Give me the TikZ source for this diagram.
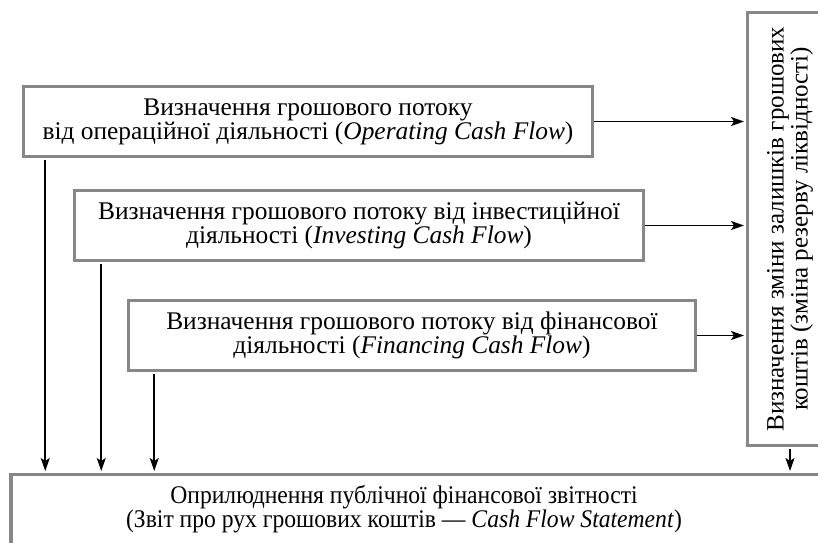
\documentclass[tikz,border=0pt]{standalone}
\usepackage{fontspec}
\setmainfont{Liberation Serif}
\usetikzlibrary{arrows.meta,positioning,calc}
\definecolor{boxgray}{RGB}{135,135,135}
\begin{document}
\begin{tikzpicture}[x=1pt,y=-1pt,
  box/.style={draw=boxgray,line width=3.5pt,fill=white,rectangle,inner sep=0pt,
    align=center,font=\fontsize{25.4}{24}\selectfont},
  arr/.style={line width=1.8pt,-{Stealth[length=13pt,width=9pt,inset=3pt]}}]
\useasboundingbox (0,0) rectangle (818,542);
\begin{scope}
\clip (0,0) rectangle (818,542);
\node[box,minimum width=569pt,minimum height=70pt] (op) at (308,121.5)
  {Визначення грошового потоку\\від операційної діяльності (\textit{Operating Cash Flow})};
\node[box,minimum width=569pt,minimum height=70pt] (inv) at (359,225.5)
  {Визначення грошового потоку від інвестиційної\\діяльності (\textit{Investing Cash Flow})};
\node[box,minimum width=567pt,minimum height=70pt] (fin) at (412,335.5)
  {Визначення грошового потоку від фінансової\\діяльності (\textit{Financing Cash Flow})};
\node[box,minimum width=433pt,minimum height=85pt,rotate=90,font=\fontsize{25}{24}\selectfont] (vbox) at (790,229)
  {Визначення зміни залишків грошових\\коштів (зміна резерву ліквідності)};
\node[box,minimum width=830pt,minimum height=120pt] (pub) at (426,534.5) {};
\node[align=center,inner sep=0pt,font=\fontsize{25.4}{24}\selectfont,xscale=0.93,transform shape] (pubtxt) at (404,509)
  {Оприлюднення публічної фінансової звітності\\(Звіт про рух грошових коштів~— \textit{Cash Flow Statement})};
\end{scope}
\draw[arr,shorten >=1.75pt] (op.east) -- (op.east -| vbox.north);
\draw[arr,shorten >=1.75pt] (inv.east) -- (inv.east -| vbox.north);
\draw[arr,shorten >=1.75pt] (fin.east) -- (fin.east -| vbox.north);
\coordinate (o1) at ([xshift=23.5pt]op.south west);
\coordinate (i1) at ([xshift=28.5pt]inv.south west);
\coordinate (f1) at ([xshift=27.5pt]fin.south west);
\draw[arr,shorten >=1.75pt,shorten <=1.75pt] (o1) -- (o1 |- pub.north);
\draw[arr,shorten >=1.75pt,shorten <=1.75pt] (i1) -- (i1 |- pub.north);
\draw[arr,shorten >=1.75pt,shorten <=1.75pt] (f1) -- (f1 |- pub.north);
\draw[arr,shorten >=1.75pt,shorten <=1.75pt] (vbox.west) -- (vbox.west |- pub.north);
\end{tikzpicture}
\end{document}
